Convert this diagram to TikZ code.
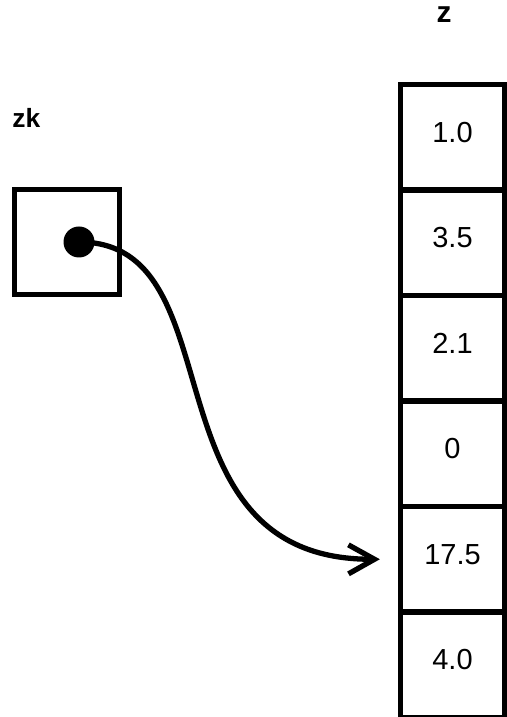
\documentclass[tikz,border=0pt]{standalone}
\usepackage{fontspec}
\setmainfont{Liberation Sans}
\usetikzlibrary{arrows.meta}

\begin{document}
\begin{tikzpicture}[
 cell/.style = {draw, line width = 3pt, minimum width = 2.08cm, minimum height = 2.11cm, inner sep = 0pt, text depth = 0.2cm, font = \fontsize{16.5}{18}\selectfont},
 ]
 \useasboundingbox (0,0) rectangle (10.14,14.34);
 % array z
 \node[cell] (c1) at (9.05,11.595) {1.0};
 \node[cell] (c2) at (9.05,9.485) {3.5};
 \node[cell] (c3) at (9.05,7.375) {2.1};
 \node[cell] (c4) at (9.05,5.265) {0};
 \node[cell] (c5) at (9.05,3.155) {17.5};
 \node[cell] (c6) at (9.05,1.045) {4.0};
 \node[anchor = base, inner sep = 0pt, font = \bfseries\fontsize{17}{19}\selectfont] (zname) at (8.88,13.88) {z};
 % variable zk
 \node[draw, line width = 3pt, minimum size = 2.1cm] (zkbox) at (1.34,9.5) {};
 \node[circle, fill = black, minimum size = 0.62cm, inner sep = 0pt] (dot) at (1.58,9.5) {};
 \node[anchor = base west, inner sep = 0pt, font = \bfseries\fontsize{15}{17}\selectfont] (zkname) at (0.24,11.78) {zk};
 \draw[line width = 3pt, -{Straight Barb[length=0.52cm,width=0.58cm]}] (dot.center) .. controls (4.8,9.5) and (2.8,3.14) .. ([xshift=-0.36cm]c5.west);
\end{tikzpicture}
\end{document}
